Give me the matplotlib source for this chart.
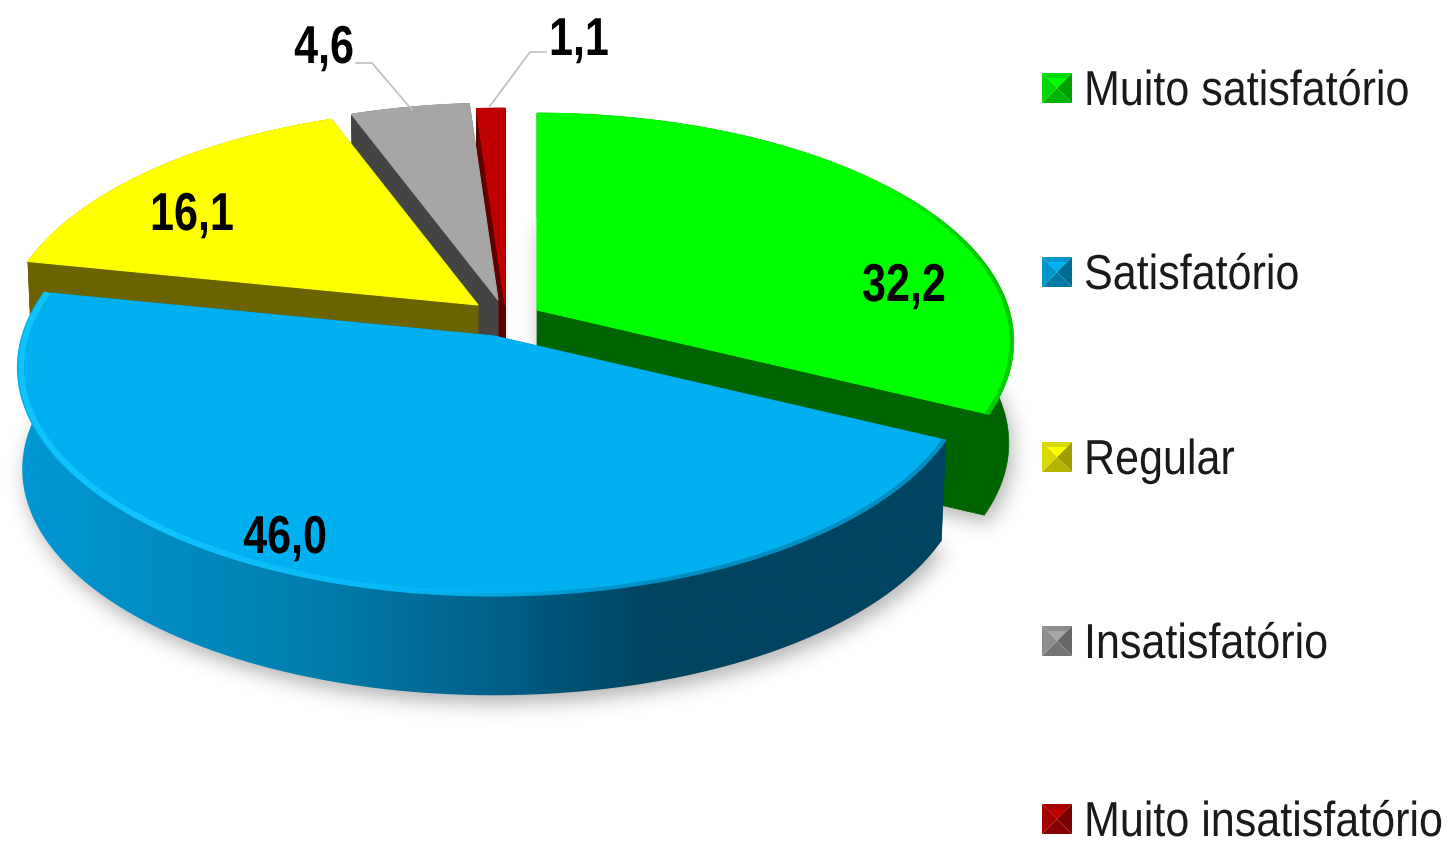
import numpy as np
import matplotlib
matplotlib.use('Agg')
import matplotlib.pyplot as plt
from matplotlib.collections import LineCollection
from matplotlib.colors import LinearSegmentedColormap, to_rgb
from matplotlib.patches import Polygon, PathPatch
from matplotlib.path import Path
from matplotlib.patheffects import AbstractPathEffect
from matplotlib.transforms import Affine2D

plt.rcParams['font.family'] = ['Liberation Sans', 'DejaVu Sans']

categories = ['Muito satisfatório', 'Satisfatório', 'Regular', 'Insatisfatório', 'Muito insatisfatório']
values = [32.2, 46.0, 16.1, 4.6, 1.1]
value_labels = ['32,2', '46,0', '16,1', '4,6', '1,1']

top_colors = ['#00FF00', '#00B0F0', '#FFFF00', '#A6A6A6', '#C00000']
wall_colors = ['#006400', '#00445F', '#6B6300', '#444444', '#600000']

# where each exploded slice has its tip, in pixels
tip_x = [537, 494, 478, 498, 505]
tip_y = [310, 336, 305, 300, 305]
label_x = [904, 285, 192, 324, 579]
label_y = [301, 553, 230, 63, 55]
legend_y = [88, 272, 457, 641, 819]

RX, RY, PERSP, DEPTH, BOTTOM_SCALE = 472, 224, 0.138, 102, 0.99


class Stretch(AbstractPathEffect):
    """the source text is a tall narrow face, so stretch glyphs upward"""
    def __init__(self, k):
        super().__init__()
        self.k = k

    def draw_path(self, renderer, gc, tpath, affine, rgbFace=None):
        renderer.draw_path(gc, tpath, Affine2D().scale(1, self.k) + affine, rgbFace)


def rim(i, th, low=False):
    """point(s) on the rim of slice i, th in degrees clockwise from top"""
    t = np.radians(th)
    u, v = np.sin(t), -np.cos(t)
    s = 1 / (1 - PERSP * v)
    k = BOTTOM_SCALE if low else 1
    return np.column_stack([tip_x[i] + k * RX * u * s,
                            tip_y[i] + (DEPTH if low else 0) + k * RY * v * s])


def tip(i, low=False):
    return np.array([[tip_x[i], tip_y[i] + (DEPTH if low else 0)]])


fig = plt.figure(figsize=(14.48, 8.46), dpi=100)
ax = fig.add_axes([0, 0, 1, 1])
ax.axis('off')

edges = np.cumsum([0] + values) * 3.6

# soft shadow under the pie: blurred mask of the two big slices
gx, gy = np.meshgrid(np.arange(0, 1448, 2), np.arange(0, 846, 2))
cells = np.column_stack([gx.ravel(), gy.ravel()])
mask = np.zeros(gx.shape)
for i in (0, 1):
    th = np.linspace(edges[i], edges[i + 1], 160)
    poly = np.vstack([tip(i, True), rim(i, th, low=True)]) + [3, 7]
    mask = np.maximum(mask, Path(poly).contains_points(cells).reshape(gx.shape).astype(float))
kern = np.exp(-0.5 * (np.arange(-14, 15) / 5.0) ** 2)
kern /= kern.sum()
blur = np.apply_along_axis(lambda r: np.convolve(r, kern, mode='same'), 0, mask)
blur = np.apply_along_axis(lambda r: np.convolve(r, kern, mode='same'), 1, blur)
shadow = np.zeros(gx.shape + (4,))
shadow[..., 3] = blur * 0.3
ax.imshow(shadow, extent=(0, 1448, 846, 0), aspect='auto', zorder=1)

# grey glow in the gap between red and green
glow = LinearSegmentedColormap.from_list('glow', ['#D6D6D6', '#ECECEC', '#DEDEDE'])
g = np.linspace(0, 1, 60)[None, :] * np.ones((40, 1))
fade = np.linspace(0, 1, 40)[:, None]
ax.imshow(g, cmap=glow, extent=(507, 537, 345, 190), aspect='auto', zorder=1.5,
          alpha=np.clip(fade * 6, 0, 1))


def rim_line(i, arc, color, alpha, width, inset):
    # pull the line inward towards the tip so it stays on the top face
    arc = tip(i) + (arc - tip(i)) * inset
    segs = np.stack([arc[:-1], arc[1:]], axis=1)
    cols = np.zeros((len(segs), 4))
    cols[:, :3] = to_rgb(color)
    cols[:, 3] = alpha
    return LineCollection(segs, colors=cols, linewidths=width, capstyle='butt')


draw_order = [4, 3, 2, 0, 1]
for z, i in enumerate(draw_order):
    base = 2 + z
    th = np.linspace(edges[i], edges[i + 1], 200)
    top_arc = rim(i, th)
    low_arc = rim(i, th, low=True)

    # cut faces
    for a in (edges[i], edges[i + 1]):
        wall = np.vstack([tip(i), rim(i, a), rim(i, a, low=True), tip(i, low=True)])
        ax.add_patch(Polygon(wall, fc=wall_colors[i], ec=wall_colors[i], lw=0.5, zorder=base))

    # outer wall
    outer = np.vstack([top_arc, low_arc[::-1]])
    if i == 1:
        side = LinearSegmentedColormap.from_list('side', [(0, '#0098D4'), (0.305, '#0080B0'),
                                                          (0.52, '#005F87'), (0.68, '#00445F'),
                                                          (1, '#00445F')])
        im = ax.imshow(np.linspace(0, 1, 400)[None, :], cmap=side, aspect='auto',
                       extent=(15, 950, 720, 300), zorder=base + 0.1)
        clip = PathPatch(Path(outer), transform=ax.transData, fc='none', ec='none')
        ax.add_patch(clip)
        im.set_clip_path(clip)
    else:
        ax.add_patch(Polygon(outer, fc=wall_colors[i], ec=wall_colors[i], lw=0.5, zorder=base + 0.1))

    # top face
    ax.add_patch(Polygon(np.vstack([tip(i), top_arc]), fc=top_colors[i], ec=top_colors[i],
                         lw=0.8, zorder=base + 0.2))

    # bevel along the rim
    frac = np.linspace(0, 1, len(top_arc) - 1)
    if i == 1:
        bright = rim_line(i, top_arc, '#10C4FF', np.clip((frac - 0.3) * 3, 0, 1), 4, 0.992)
        bright.set_zorder(base + 0.3)
        ax.add_collection(bright)
        soft = rim_line(i, top_arc, '#007FAE', np.clip((0.45 - frac) * 4, 0, 0.7), 3, 0.996)
        soft.set_zorder(base + 0.3)
        ax.add_collection(soft)
    elif i == 0:
        soft = rim_line(i, top_arc, '#00B000', np.clip((frac - 0.45) * 4, 0, 0.7), 3, 0.996)
        soft.set_zorder(base + 0.3)
        ax.add_collection(soft)

# leader lines
ax.plot([356, 372, 412], [63, 63, 110], color='#BFBFBF', lw=1.2, zorder=9)
ax.plot([546, 530, 490], [52, 52, 106], color='#BFBFBF', lw=1.2, zorder=9)

for i, lab in enumerate(value_labels):
    ax.text(label_x[i], label_y[i], lab, fontsize=31, fontweight='bold', color='black',
            ha='center', va='baseline', zorder=10, path_effects=[Stretch(1.24)])


def shade_color(c, f):
    return tuple(np.clip(np.array(to_rgb(c)) * f, 0, 1))


# legend
for i, name in enumerate(categories):
    x0, x1, y0, y1 = 1042, 1072, legend_y[i] - 15, legend_y[i] + 15
    cx, cy = (x0 + x1) / 2, legend_y[i]
    faces = [([(x0, y0), (x1, y0), (cx, cy)], 0.85),
             ([(x1, y0), (x1, y1), (cx, cy)], 0.62),
             ([(x1, y1), (x0, y1), (cx, cy)], 0.7),
             ([(x0, y1), (x0, y0), (cx, cy)], 0.85)]
    for pts, f in faces:
        ax.add_patch(Polygon(pts, fc=shade_color(top_colors[i], f), ec='none', zorder=6))
    inner = 5
    ax.add_patch(Polygon([(x0 + inner, y0 + inner), (x1 - inner, y0 + inner), (cx, cy)],
                         fc=top_colors[i], ec='none', zorder=6.1))
    ax.text(1084, legend_y[i] + 17, name, fontsize=31, color='#1A1A1A', ha='left', va='baseline',
            zorder=10, path_effects=[Stretch(1.14)])

ax.set_xlim(0, 1448)
ax.set_ylim(846, 0)

fig.savefig('out.png', dpi=100, facecolor='white')
